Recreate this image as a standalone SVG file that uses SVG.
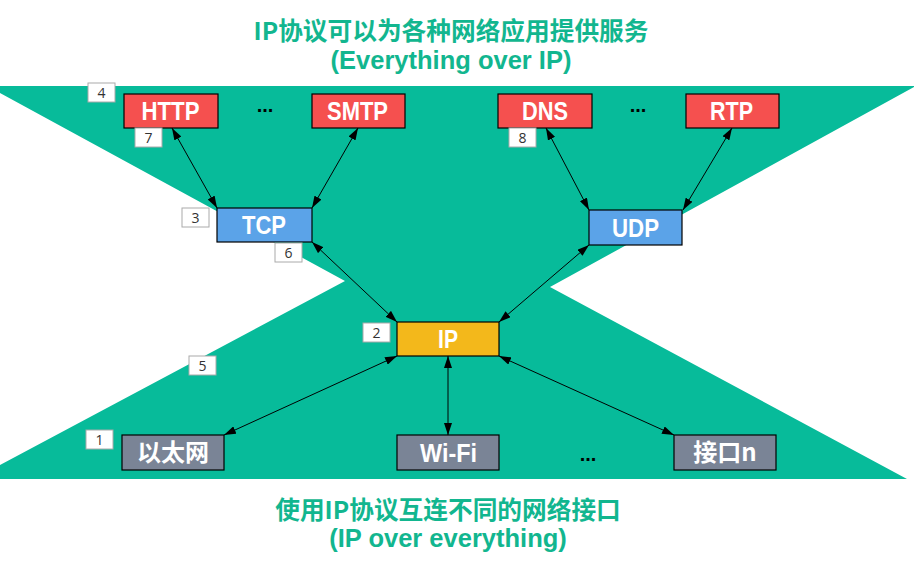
<svg xmlns="http://www.w3.org/2000/svg" width="914" height="562" viewBox="0 0 914 562">
<defs>
<marker id="arr" viewBox="0 0 12 8" refX="12" refY="4" markerWidth="12" markerHeight="8" markerUnits="userSpaceOnUse" orient="auto-start-reverse">
<path d="M0,0 L12,4 L0,8 z" fill="#000"/>
</marker>
<style>
.node rect{stroke:#000;stroke-width:1.2}
.app rect{fill:#F5504F}
.tr rect{fill:#5BA3E8}
.ipn rect{fill:#F3B81B}
.lnk rect{fill:#7A8496}
.lbl{font-family:"Liberation Sans",Arial,sans-serif;font-weight:bold;font-size:26px;fill:#fff;text-anchor:middle}
.cjk{font-family:"Noto Sans CJK SC",sans-serif;font-weight:bold;font-size:24px;fill:#fff;text-anchor:middle}
.num rect{fill:#fff;stroke:#AAAAAA;stroke-width:1}
.num text{font-family:"Open Sans",sans-serif;font-size:14px;fill:#333;text-anchor:middle}
.title{font-family:"Noto Sans CJK SC",sans-serif;font-weight:bold;font-size:24.7px;fill:#12B68F;text-anchor:middle}
.sub{font-family:"Liberation Sans",sans-serif;font-weight:bold;font-size:25.5px;fill:#12B68F;text-anchor:middle}
.dots{font-family:"Liberation Sans",sans-serif;font-weight:bold;font-size:20px;fill:#000;text-anchor:middle}
.conn line{stroke:#000;stroke-width:1;marker-start:url(#arr);marker-end:url(#arr)}
</style>
</defs>
<rect width="914" height="562" fill="#fff"/>
<polygon id="background" points="0,86 914,86 914,87 550,287 907,479 0,479 0,465 345,281 0,93" fill="#07BB9A"/>
<g id="titles">
<text class="title" x="451" y="40">IP协议可以为各种网络应用提供服务</text>
<text class="sub" x="451" y="69">(Everything over IP)</text>
<text class="title" x="448" y="519">使用IP协议互连不同的网络接口</text>
<text class="sub" x="448" y="547">(IP over everything)</text>
</g>
<g id="connectors" class="conn">
<line x1="172" y1="128" x2="217" y2="208"/>
<line x1="358" y1="128" x2="312" y2="208"/>
<line x1="312" y1="242" x2="397" y2="322"/>
<line x1="546" y1="128" x2="589" y2="210"/>
<line x1="732" y1="128" x2="683" y2="210"/>
<line x1="589" y1="245" x2="499" y2="322"/>
<line x1="397" y1="356" x2="224" y2="435"/>
<line x1="448" y1="356" x2="448" y2="435"/>
<line x1="499" y1="356" x2="674" y2="435"/>
</g>
<g id="node-http" class="node app"><rect x="124" y="94" width="94" height="34"/><text class="lbl" x="170.5" y="120" textLength="58" lengthAdjust="spacingAndGlyphs">HTTP</text></g>
<g id="node-smtp" class="node app"><rect x="312" y="94" width="93" height="34"/><text class="lbl" x="357.5" y="120" textLength="61" lengthAdjust="spacingAndGlyphs">SMTP</text></g>
<g id="node-dns" class="node app"><rect x="498" y="94" width="94" height="34"/><text class="lbl" x="545" y="120" textLength="46" lengthAdjust="spacingAndGlyphs">DNS</text></g>
<g id="node-rtp" class="node app"><rect x="686" y="94" width="93" height="34"/><text class="lbl" x="731.5" y="120" textLength="43" lengthAdjust="spacingAndGlyphs">RTP</text></g>
<g id="node-tcp" class="node tr"><rect x="217" y="208" width="95" height="34"/><text class="lbl" x="264" y="234" textLength="44" lengthAdjust="spacingAndGlyphs">TCP</text></g>
<g id="node-udp" class="node tr"><rect x="589" y="210" width="93" height="35"/><text class="lbl" x="635.5" y="237" textLength="47" lengthAdjust="spacingAndGlyphs">UDP</text></g>
<g id="node-ip" class="node ipn"><rect x="397" y="322" width="102" height="34"/><text class="lbl" x="448" y="348" textLength="20" lengthAdjust="spacingAndGlyphs">IP</text></g>
<g id="node-ethernet" class="node lnk"><rect x="122" y="435" width="102" height="35"/><text class="cjk" x="173" y="461">以太网</text></g>
<g id="node-wifi" class="node lnk"><rect x="397" y="435" width="102" height="35"/><text class="lbl" x="448.5" y="462" textLength="57" lengthAdjust="spacingAndGlyphs">Wi-Fi</text></g>
<g id="node-ifn" class="node lnk"><rect x="674" y="435" width="102" height="35"/><text class="cjk" x="725" y="461">接口n</text></g>
<g id="dots">
<text class="dots" x="265" y="112">...</text>
<text class="dots" x="638" y="112">...</text>
<text class="dots" x="588" y="461">...</text>
</g>
<g id="numbers" class="num">
<g id="num-1"><rect x="86" y="430" width="27" height="19"/><text x="99.5" y="444.5">1</text></g>
<g id="num-2"><rect x="363" y="323" width="27" height="19"/><text x="376.5" y="337.5">2</text></g>
<g id="num-3"><rect x="182" y="208" width="27" height="19"/><text x="195.5" y="222.5">3</text></g>
<g id="num-4"><rect x="88" y="83" width="27" height="19"/><text x="101.5" y="97.5">4</text></g>
<g id="num-5"><rect x="189" y="356" width="27" height="19"/><text x="202.5" y="370.5">5</text></g>
<g id="num-6"><rect x="275" y="243" width="27" height="19"/><text x="288.5" y="257.5">6</text></g>
<g id="num-7"><rect x="135" y="128" width="27" height="19"/><text x="148.5" y="142.5">7</text></g>
<g id="num-8"><rect x="509" y="128" width="27" height="19"/><text x="522.5" y="142.5">8</text></g>
</g>
</svg>
